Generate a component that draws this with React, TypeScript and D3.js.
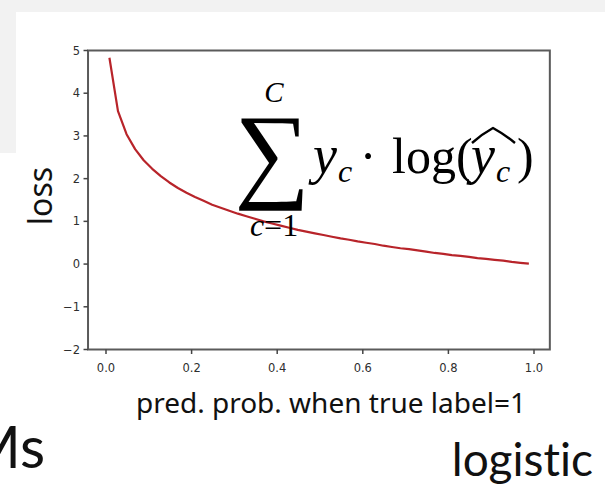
import React from "react";
import * as d3 from "d3";

// Predicted probability samples and the matching log-loss values
const probs = [
  0.008, 0.028, 0.048, 0.068, 0.088, 0.108, 0.128, 0.148, 0.168, 0.188,
  0.208, 0.228, 0.248, 0.268, 0.288, 0.308, 0.328, 0.348, 0.368, 0.388,
  0.408, 0.428, 0.448, 0.468, 0.488, 0.508, 0.528, 0.548, 0.568, 0.588,
  0.608, 0.628, 0.648, 0.668, 0.688, 0.708, 0.728, 0.748, 0.768, 0.788,
  0.808, 0.828, 0.848, 0.868, 0.888, 0.908, 0.928, 0.948, 0.968, 0.988,
];
const losses = [
  4.83, 3.58, 3.04, 2.69, 2.43, 2.23, 2.06, 1.91, 1.78, 1.67,
  1.57, 1.48, 1.39, 1.32, 1.25, 1.18, 1.12, 1.06, 1.0, 0.95,
  0.9, 0.85, 0.8, 0.76, 0.72, 0.68, 0.64, 0.6, 0.57, 0.53,
  0.5, 0.47, 0.43, 0.4, 0.37, 0.35, 0.32, 0.29, 0.26, 0.24,
  0.21, 0.19, 0.17, 0.14, 0.12, 0.1, 0.08, 0.05, 0.03, 0.01,
];
const xTicks = [0, 0.2, 0.4, 0.6, 0.8, 1.0];
const yTicks = [-2, -1, 0, 1, 2, 3, 4, 5];
const xTickLabels = ["0.0", "0.2", "0.4", "0.6", "0.8", "1.0"];
const yTickLabels = ["\u22122", "\u22121", "0", "1", "2", "3", "4", "5"];

const W = 605;
const H = 486;
const slideFont = "'Noto Sans', Lato, sans-serif";
const slideFontNarrow = "Lato, 'Noto Sans', sans-serif";
const plotFont = "'DejaVu Sans', sans-serif";
const mathFont = "'Liberation Serif', 'DejaVu Serif', serif";

export default function App() {
  const x = d3.scaleLinear().domain([0, 1]).range([106, 534]);
  const y = d3.scaleLinear().domain([-2, 5]).range([349.5, 50.5]);
  const xLeft = x(-0.042);
  const xRight = x(1.037);
  const yTop = y(5);
  const yBottom = y(-2);

  const line = d3
    .line<number>()
    .x((_, i) => x(probs[i]))
    .y((d) => y(d));

  const spine = "#5a5a5a";
  const tickCol = "#444";
  const noLig = { fontVariantLigatures: "none" } as React.CSSProperties;

  return (
    <svg
      width={W}
      height={H}
      style={{ position: "absolute", left: 0, top: 0, display: "block" }}
    >
      <rect x={0} y={0} width={W} height={H} fill="#ffffff" />
      {/* slide backdrop */}
      <rect x={0} y={0} width={W} height={12} fill="#f2f2f2" />
      <rect x={0} y={12} width={16} height={141} fill="#f2f2f2" />

      {/* loss curve */}
      <path
        d={line(losses) || ""}
        fill="none"
        stroke="#b8242a"
        strokeWidth={2.2}
        strokeLinejoin="round"
      />

      {/* axes frame */}
      <rect
        x={xLeft}
        y={yTop}
        width={xRight - xLeft}
        height={yBottom - yTop}
        fill="none"
        stroke={spine}
        strokeWidth={2}
      />

      {/* x ticks */}
      {xTicks.map((t, i) => (
        <g key={"xt" + i}>
          <line
            x1={x(t)}
            x2={x(t)}
            y1={yBottom}
            y2={yBottom + 4.5}
            stroke={tickCol}
            strokeWidth={1.5}
          />
          <text
            x={x(t)}
            y={yBottom + 22}
            textAnchor="middle"
            fontFamily={plotFont}
            fontSize={11.5}
            fill="#2e2e2e"
          >
            {xTickLabels[i]}
          </text>
        </g>
      ))}

      {/* y ticks */}
      {yTicks.map((t, i) => (
        <g key={"yt" + i}>
          <line
            x1={xLeft - 4.5}
            x2={xLeft}
            y1={y(t)}
            y2={y(t)}
            stroke={tickCol}
            strokeWidth={1.5}
          />
          <text
            x={xLeft - 8}
            y={y(t)}
            dy="0.36em"
            textAnchor="end"
            fontFamily={plotFont}
            fontSize={11.5}
            fill="#2e2e2e"
          >
            {yTickLabels[i]}
          </text>
        </g>
      ))}

      {/* axis titles */}
      <text
        transform="translate(52,196) rotate(-90)"
        textAnchor="middle"
        fontFamily={slideFont}
        fontSize={32}
        fill="#111"
        style={noLig}
      >
        loss
      </text>
      <text
        x={331}
        y={413}
        textAnchor="middle"
        fontFamily={slideFont}
        fontSize={28}
        fill="#111"
        style={noLig}
      >
        pred. prob. when true label=1
      </text>

      {/* cross-entropy formula */}
      <g fontFamily={mathFont} fill="#000">
        <text x={274} y={102} textAnchor="middle" fontStyle="italic" fontSize={29}>
          C
        </text>
        <text x={272} y={188} textAnchor="middle" fontSize={106}>
          ∑
        </text>
        <text x={274} y={236} textAnchor="middle" fontSize={32}>
          <tspan fontStyle="italic">c</tspan>
          <tspan>=1</tspan>
        </text>
        <text x={313} y={173} fontSize={54} fontStyle="italic">
          y
        </text>
        <text x={338} y={182} fontSize={32} fontStyle="italic">
          c
        </text>
        <text x={368} y={173} fontSize={50} textAnchor="middle">
          ·
        </text>
        <text x={392} y={173} fontSize={50}>
          log(
        </text>
        <text x={471} y={173} fontSize={54} fontStyle="italic">
          y
        </text>
        <text x={496} y={182} fontSize={32} fontStyle="italic">
          c
        </text>
        <text x={517} y={173} fontSize={50}>
          )
        </text>
        <path
          d="M472,143 Q482,134 493,128 Q504,134 515,143"
          fill="none"
          stroke="#000"
          strokeWidth={2.4}
        />
      </g>

      {/* neighbouring slide text */}
      <text
        x={45}
        y={468}
        textAnchor="end"
        fontFamily={slideFontNarrow}
        fontSize={58}
        fill="#111"
        style={noLig}
      >
        SVMs
      </text>
      <text
        x={593}
        y={476}
        textAnchor="end"
        fontFamily={slideFontNarrow}
        fontSize={46}
        fill="#111"
        style={noLig}
      >
        logistic
      </text>
    </svg>
  );
}
